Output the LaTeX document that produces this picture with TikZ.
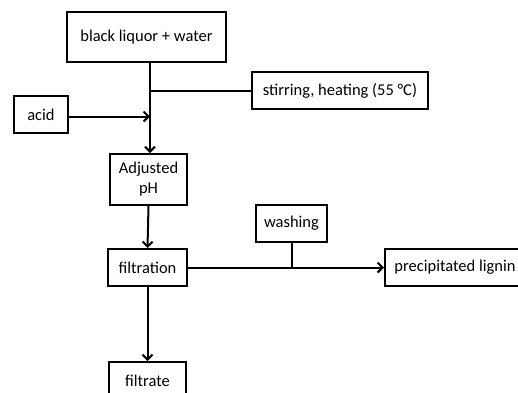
\documentclass[tikz,border=0pt]{standalone}
\usepackage{fontspec}
\setmainfont{Carlito}
\usetikzlibrary{arrows.meta}
\begin{document}
\begin{tikzpicture}[x=1pt,y=-1pt,
  box/.style={draw, line width=2pt, inner sep=0pt, align=center,
    font=\fontsize{16.5}{20}\selectfont},
  link/.style={line width=2pt},
  arr/.style={line width=2pt, -{Straight Barb[length=5pt,width=10pt,line width=2pt]}}]
\useasboundingbox (0,0) rectangle (518,392);
\clip (0,0) rectangle (518,392);
\node[box, minimum width=159pt, minimum height=50pt] (blq) at (146.5,37) {black liquor + water};
\node[box, minimum width=176pt, minimum height=37pt] (stir) at (340,90.5) {stirring, heating (55 °C)};
\node[box, minimum width=54pt, minimum height=37pt] (acid) at (41,114.5) {acid};
\node[box, minimum width=77pt, minimum height=51pt] (ph) at (148.5,179.5) {Adjusted\\pH};
\node[box, minimum width=79pt, minimum height=37pt] (filt) at (147.5,267.5) {filtration};
\node[box, minimum width=71pt, minimum height=37pt] (wash) at (291.5,223.5) {washing};
\node[box, minimum width=140pt, minimum height=37pt] (lig) at (455,267.5) {precipitated lignin};
\node[box, minimum width=77pt, minimum height=37pt] (filtrate) at (147.5,380.5) {filtrate};
\coordinate (j1) at (150,90.5);
\coordinate (j2) at (150,116.5);
\coordinate (j3) at (291.5,267.5);
\draw[arr] (blq.south -| j1) -- (ph.north -| j1);
\draw[link] (j1) -- (stir.west);
\draw[arr] (acid.east |- j2) -- (j2);
\draw[arr] (ph.south) -- (filt.north);
\draw[arr] (filt.east) -- (lig.west);
\draw[link] (wash.south) -- (j3);
\draw[arr] (filt.south) -- (filtrate.north);
\end{tikzpicture}
\end{document}
